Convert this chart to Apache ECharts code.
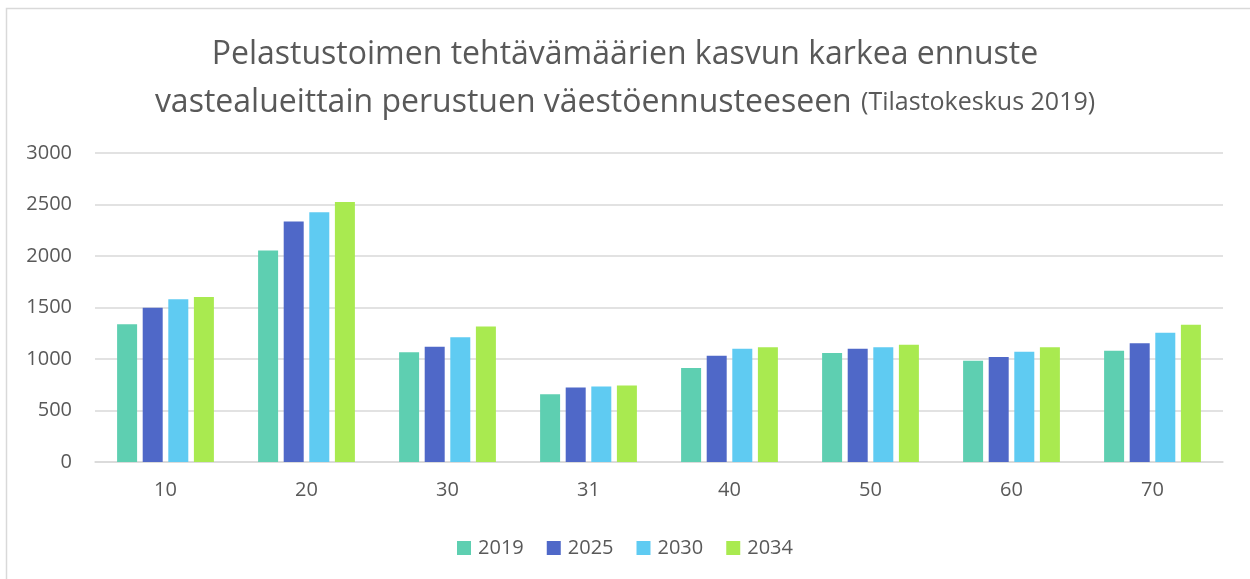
<!DOCTYPE html>
<html>
<head>
<meta charset="utf-8">
<script src="https://cdn.jsdelivr.net/npm/echarts@6/dist/echarts.min.js"></script>
<style>
  html, body { margin: 0; padding: 0; background: #fff; }
  #main { width: 1250px; height: 579px; }
</style>
</head>
<body>
<div id="main"></div>
<script>
  // vastealueet
  var categories = ['10', '20', '30', '31', '40', '50', '60', '70'];
  var seriesNames = ['2019', '2025', '2030', '2034'];
  var v2019 = [1338, 2054, 1066, 658, 913, 1058, 984, 1081];
  var v2025 = [1497, 2336, 1118, 723, 1032, 1100, 1019, 1152];
  var v2030 = [1581, 2424, 1212, 732, 1100, 1113, 1071, 1255];
  var v2034 = [1601, 2524, 1316, 742, 1113, 1139, 1113, 1332];
  var yTicks = [0, 500, 1000, 1500, 2000, 2500, 3000];

  var colors = ['#5ecfb1', '#4f68c8', '#5fcbf2', '#a9ea50'];
  var values = [v2019, v2025, v2030, v2034];
  var font = '"Open Sans", "Noto Sans", sans-serif';

  var chart = echarts.init(document.getElementById('main'));
  var option = {
    animation: false,
    color: colors,
    textStyle: { fontFamily: font },
    graphic: [{
      type: 'rect',
      shape: { x: 6.5, y: 8.5, width: 1300, height: 700 },
      style: { fill: 'none', stroke: '#d9d9d9', lineWidth: 1.5 },
      silent: true
    }],
    title: {
      left: 'center',
      top: 26,
      text: '{a|Pelastustoimen tehtävämäärien kasvun karkea ennuste}\n{a|vastealueittain perustuen väestöennusteeseen}  {b|(Tilastokeskus 2019)}',
      textStyle: {
        fontWeight: 'normal',
        rich: {
          a: { fontFamily: font, fontSize: 32, fontWeight: 'normal', color: '#595959', lineHeight: 48 },
          b: { fontFamily: font, fontSize: 25, fontWeight: 'normal', color: '#595959', lineHeight: 48 }
        }
      }
    },
    legend: {
      bottom: 16,
      left: 'center',
      itemWidth: 14,
      itemHeight: 14,
      itemGap: 23,
      icon: 'rect',
      textStyle: { fontFamily: font, fontSize: 20, color: '#595959', padding: [0, 0, 0, 2] },
      data: seriesNames
    },
    grid: { left: 95, right: 27, top: 153, bottom: 117, containLabel: false },
    xAxis: {
      type: 'category',
      data: categories,
      axisLine: { lineStyle: { color: '#d9d9d9', width: 1.5 } },
      axisTick: { show: false },
      axisLabel: { fontFamily: font, fontSize: 20, color: '#595959', margin: 18 }
    },
    yAxis: {
      type: 'value',
      min: yTicks[0],
      max: yTicks[yTicks.length - 1],
      interval: 500,
      axisLine: { show: false },
      axisTick: { show: false },
      axisLabel: {
        fontFamily: font, fontSize: 20, color: '#595959', margin: 23,
        formatter: function (v) { return String(v); }
      },
      splitLine: { lineStyle: { color: '#d9d9d9', width: 1.5 } }
    },
    series: seriesNames.map(function (name, i) {
      return {
        name: name,
        type: 'bar',
        data: values[i],
        barWidth: 20,
        barGap: '28%',
        itemStyle: { color: colors[i] }
      };
    })
  };
  chart.setOption(option);
</script>
</body>
</html>
